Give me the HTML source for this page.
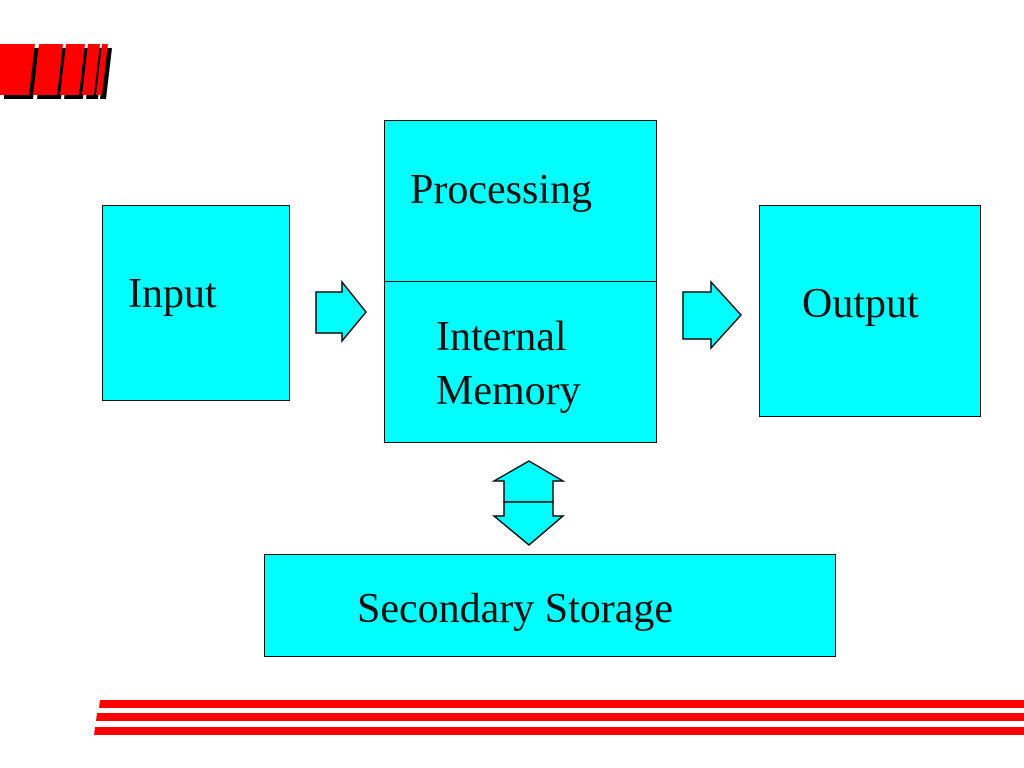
<!DOCTYPE html>
<html><head><style>
body{margin:0;width:1024px;height:768px;background:#fff;position:relative;overflow:hidden;font-family:"Liberation Serif",serif}
.b{position:absolute;background:#00ffff;border:1.5px solid #111;box-sizing:border-box}
.t{position:absolute;font-size:42px;color:#111;white-space:nowrap}
</style></head><body>
<svg width="1024" height="768" style="position:absolute;left:0;top:0">
<g fill="#000" transform="translate(4,4)">
<polygon points="0,44 35,44 29,95 0,95"/>
<polygon points="39,44 63,44 57,95 33,95"/>
<polygon points="66,44 85,44 79,95 60,95"/>
<polygon points="88,44 100,44 94,95 82,95"/>
<polygon points="102,44 108,44 102,95 96,95"/>
</g>
<g fill="#ff0000">
<polygon points="0,44 35,44 29,95 0,95"/>
<polygon points="39,44 63,44 57,95 33,95"/>
<polygon points="66,44 85,44 79,95 60,95"/>
<polygon points="88,44 100,44 94,95 82,95"/>
<polygon points="102,44 108,44 102,95 96,95"/>
</g>
<g fill="#ff0000">
<polygon points="100,700 1024,700 1024,708 99,708"/>
<polygon points="97,713 1024,713 1024,721 96,721"/>
<polygon points="95,727 1024,727 1024,735 94,735"/>
</g>
<g fill="#00ffff" stroke="#111" stroke-width="1.5">
<polygon points="316,292 342,292 342,282 366,312 342,341 342,333 316,333"/>
<polygon points="683,292 711,292 711,282 741,315 711,348 711,339 683,339"/>
<polygon points="529,461 563,481 553,481 553,502 504,502 504,481 494,481"/>
<polygon points="504,502 553,502 553,516 563,516 529,545 494,516 504,516"/>
</g>
</svg>
<div class="b" style="left:102px;top:205px;width:188px;height:196px"></div>
<div class="b" style="left:384px;top:120px;width:273px;height:163px"></div>
<div class="b" style="left:384px;top:281px;width:273px;height:162px"></div>
<div class="b" style="left:759px;top:205px;width:222px;height:212px"></div>
<div class="b" style="left:264px;top:554px;width:572px;height:103px"></div>
<div class="t" style="left:128px;top:270px">Input</div>
<div class="t" style="left:410px;top:166px">Processing</div>
<div class="t" style="left:436px;top:313px">Internal</div>
<div class="t" style="left:436px;top:367px">Memory</div>
<div class="t" style="left:802px;top:280px">Output</div>
<div class="t" style="left:357px;top:585px">Secondary Storage</div>
</body></html>
